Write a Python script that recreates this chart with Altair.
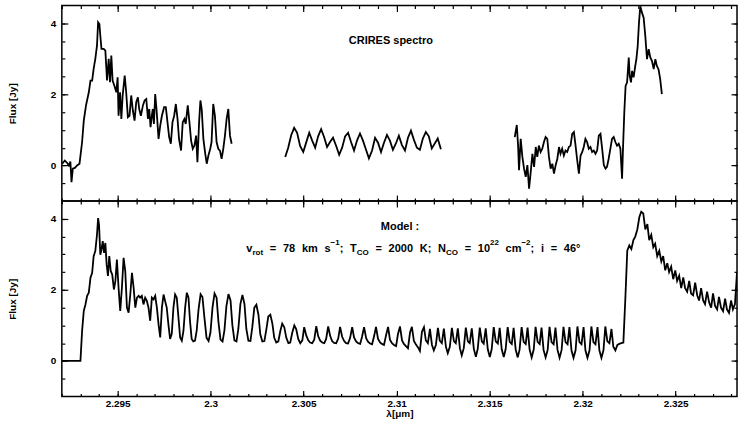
import altair as alt
import pandas as pd

# ---------------- axis ranges / ticks ----------------
X_DOMAIN = [2.292, 2.3283]
Y_DOMAIN = [-1.0, 4.5]
X_MAJOR = [2.295, 2.3, 2.305, 2.31, 2.315, 2.32, 2.325]
X_MINOR = [2.292, 2.293, 2.294, 2.295, 2.296, 2.297, 2.298, 2.299, 2.3, 2.301, 2.302,
           2.303, 2.304, 2.305, 2.306, 2.307, 2.308, 2.309, 2.31, 2.311, 2.312, 2.313,
           2.314, 2.315, 2.316, 2.317, 2.318, 2.319, 2.32, 2.321, 2.322, 2.323, 2.324,
           2.325, 2.326, 2.327, 2.328]
Y_MAJOR = [0, 2, 4]
Y_MINOR = [-0.5, 0, 0.5, 1, 1.5, 2, 2.5, 3, 3.5, 4]

# ---------------- CRIRES observed spectrum (3 pieces) ----------------
obs1_wl = [2.29202, 2.29216, 2.29229, 2.29238, 2.29246, 2.29252, 2.29259, 2.29270, 2.29282, 2.29295,
           2.29309, 2.29318, 2.29330, 2.29345, 2.29354, 2.29363, 2.29371, 2.29380, 2.29389, 2.29395,
           2.29402, 2.29407, 2.29413, 2.29425, 2.29434, 2.29443, 2.29452, 2.29459, 2.29466, 2.29473,
           2.29482, 2.29493, 2.29500, 2.29505, 2.29513, 2.29520, 2.29527, 2.29538, 2.29546, 2.29555,
           2.29564, 2.29573, 2.29582, 2.29591, 2.29600, 2.29609, 2.29616, 2.29625, 2.29636, 2.29645,
           2.29654, 2.29663, 2.29670, 2.29677, 2.29684, 2.29689, 2.29695, 2.29702, 2.29709, 2.29720,
           2.29729, 2.29738, 2.29750, 2.29759, 2.29768, 2.29777, 2.29786, 2.29795, 2.29804, 2.29813,
           2.29822, 2.29830, 2.29841, 2.29850, 2.29859, 2.29866, 2.29877, 2.29886, 2.29895, 2.29904,
           2.29913, 2.29922, 2.29929, 2.29938, 2.29945, 2.29952, 2.29961, 2.29970, 2.29979, 2.29988,
           2.29998, 2.30005, 2.30014, 2.30023, 2.30032, 2.30041, 2.30050, 2.30059, 2.30068, 2.30077,
           2.30086, 2.30095, 2.30104, 2.30113]
obs1_flux = [0.05, 0.14, 0.07, 0.00, 0.11, -0.47, -0.09, -0.07, 0.00, 0.05,
             0.66, 1.26, 1.69, 2.06, 2.39, 2.39, 2.72, 3.00, 3.37, 4.03,
             3.98, 3.65, 3.28, 3.28, 3.23, 2.39, 3.00, 2.34, 3.09, 2.39,
             2.25, 2.06, 2.48, 1.40, 2.06, 1.31, 1.97, 2.53, 2.06, 1.36,
             1.40, 1.97, 1.54, 1.26, 1.78, 1.92, 1.59, 1.40, 1.69, 1.83,
             1.87, 1.31, 1.59, 1.08, 1.40, 1.59, 1.17, 2.01, 1.59, 0.75,
             1.12, 1.40, 1.64, 1.64, 1.22, 0.80, 0.61, 1.22, 1.40, 1.73,
             1.31, 0.75, 0.42, 1.22, 1.31, 1.17, 1.69, 1.22, 0.70, 0.47,
             0.56, 0.84, 0.09, 1.22, 1.83, 1.59, 0.75, 0.37, 0.05, 0.28,
             0.47, 0.66, 1.73, 1.40, 0.66, 0.47, 0.42, 0.19, 0.47, 0.84,
             1.31, 1.59, 0.84, 0.61]

obs2_wl = [2.30401, 2.30417, 2.30433, 2.30449, 2.30465, 2.30481, 2.30498, 2.30514, 2.30530, 2.30546,
           2.30562, 2.30578, 2.30594, 2.30610, 2.30626, 2.30642, 2.30658, 2.30675, 2.30691, 2.30707,
           2.30723, 2.30739, 2.30755, 2.30771, 2.30787, 2.30803, 2.30819, 2.30835, 2.30851, 2.30868,
           2.30884, 2.30900, 2.30916, 2.30932, 2.30948, 2.30964, 2.30980, 2.30996, 2.31012, 2.31028,
           2.31045, 2.31061, 2.31077, 2.31093, 2.31109, 2.31125, 2.31141, 2.31157, 2.31173, 2.31189,
           2.31205, 2.31221, 2.31238]
obs2_flux = [0.24, 0.50, 0.85, 1.06, 0.92, 0.55, 0.38, 0.65, 0.92, 0.70,
             0.50, 0.82, 1.02, 0.80, 0.52, 0.66, 0.78, 0.55, 0.30, 0.50,
             0.82, 0.92, 0.66, 0.42, 0.70, 0.90, 0.70, 0.45, 0.20, 0.42,
             0.78, 0.64, 0.38, 0.64, 0.86, 0.70, 0.44, 0.62, 0.84, 0.58,
             0.42, 0.78, 0.98, 0.72, 0.50, 0.44, 0.76, 0.94, 0.82, 0.48,
             0.62, 0.76, 0.46]

obs3_wl = [2.31635, 2.31646, 2.31653, 2.31658, 2.31667, 2.31676, 2.31685, 2.31694, 2.31703, 2.31712,
           2.31721, 2.31730, 2.31739, 2.31748, 2.31756, 2.31765, 2.31774, 2.31783, 2.31792, 2.31801,
           2.31810, 2.31819, 2.31828, 2.31837, 2.31846, 2.31855, 2.31864, 2.31873, 2.31881, 2.31890,
           2.31899, 2.31908, 2.31917, 2.31926, 2.31935, 2.31944, 2.31953, 2.31962, 2.31971, 2.31980,
           2.31989, 2.31998, 2.32006, 2.32015, 2.32024, 2.32033, 2.32042, 2.32051, 2.32060, 2.32069,
           2.32078, 2.32087, 2.32096, 2.32105, 2.32114, 2.32123, 2.32131, 2.32140, 2.32149, 2.32158,
           2.32167, 2.32176, 2.32185, 2.32194, 2.32203, 2.32212, 2.32217, 2.32224, 2.32231, 2.32239,
           2.32248, 2.32253, 2.32260, 2.32266, 2.32274, 2.32283, 2.32289, 2.32296, 2.32303, 2.32310,
           2.32319, 2.32328, 2.32337, 2.32346, 2.32355, 2.32364, 2.32373, 2.32382, 2.32391, 2.32399,
           2.32408, 2.32417, 2.32426]
obs3_flux = [0.80, 1.14, 0.56, -0.13, 0.75, 0.24, -0.09, -0.32, 0.01, -0.65,
             -0.18, 0.33, -0.04, 0.52, 0.24, 0.56, 0.38, 0.47, 0.66, 0.80,
             0.75, 0.24, -0.09, 0.05, -0.23, 0.01, 0.19, 0.52, 0.33, 0.47,
             0.28, 0.42, 0.38, 0.52, 0.56, 0.89, 0.94, 0.56, 0.14, -0.23,
             0.28, 0.38, 0.52, 0.75, 0.66, 0.47, 0.52, 0.38, 0.42, 0.33,
             0.42, 0.84, 0.89, 0.47, 0.01, -0.09, -0.04, 0.19, 0.47, 0.75,
             0.80, 0.66, 0.56, 0.61, 0.47, -0.37, 0.47, 1.50, 2.24, 2.34,
             3.04, 2.52, 2.34, 2.66, 2.48, 2.80, 2.99, 3.36, 4.02, 4.48,
             4.30, 4.16, 3.64, 2.99, 3.27, 3.04, 2.94, 2.71, 2.99, 2.80,
             2.71, 2.43, 2.01]

# ---------------- model spectrum ----------------
model_wl = [
    2.29202, 2.29300, 2.29309, 2.29318, 2.29327, 2.29336, 2.29345, 2.29354, 2.29363, 2.29371,
    2.29380, 2.29389, 2.29395, 2.29400, 2.29407, 2.29413, 2.29420, 2.29427, 2.29434, 2.29441,
    2.29448, 2.29455, 2.29463, 2.29471, 2.29480, 2.29488, 2.29496, 2.29505, 2.29514, 2.29523,
    2.29532, 2.29541, 2.29550, 2.29559, 2.29568, 2.29577, 2.29586, 2.29595, 2.29604, 2.29613,
    2.29621, 2.29630, 2.29639, 2.29648, 2.29657, 2.29666, 2.29675, 2.29684, 2.29693, 2.29702,
    2.29711, 2.29720, 2.29729, 2.29738, 2.29747, 2.29755, 2.29764, 2.29773, 2.29782, 2.29791,
    2.29800, 2.29809, 2.29818, 2.29827, 2.29836, 2.29845, 2.29854, 2.29863, 2.29872, 2.29881,
    2.29889, 2.29898, 2.29907, 2.29916, 2.29925,
    2.29935, 2.29946, 2.29956, 2.29967, 2.29978, 2.29989, 2.29999, 2.30010, 2.30021, 2.30032,
    2.30042, 2.30053, 2.30064, 2.30074, 2.30085, 2.30096, 2.30107, 2.30117, 2.30128, 2.30139,
    2.30149, 2.30160, 2.30171, 2.30182, 2.30192, 2.30203, 2.30214, 2.30224, 2.30235, 2.30246,
    2.30257, 2.30267, 2.30278, 2.30289, 2.30300, 2.30310, 2.30321, 2.30332, 2.30342, 2.30353,
    2.30364, 2.30375, 2.30385, 2.30396, 2.30407, 2.30418, 2.30428, 2.30439, 2.30450, 2.30460,
    2.30471, 2.30482, 2.30493, 2.30503, 2.30514, 2.30525, 2.30535, 2.30546, 2.30557, 2.30568,
    2.30578, 2.30589, 2.30600, 2.30611, 2.30621, 2.30632, 2.30643, 2.30653, 2.30664, 2.30675,
    2.30686, 2.30696, 2.30707, 2.30718, 2.30728, 2.30739, 2.30750, 2.30761, 2.30771, 2.30782,
    2.30793, 2.30804, 2.30814, 2.30825, 2.30836, 2.30846, 2.30857, 2.30868, 2.30879, 2.30889,
    2.30900, 2.30911, 2.30921, 2.30932, 2.30943, 2.30954, 2.30964, 2.30975, 2.30986, 2.30997,
    2.31007, 2.31018, 2.31029, 2.31039, 2.31050, 2.31061, 2.31072, 2.31082, 2.31093, 2.31104,
    2.31115, 2.31125, 2.31136, 2.31147, 2.31157, 2.31168, 2.31179, 2.31190, 2.31200, 2.31211,
    2.31222, 2.31232, 2.31243, 2.31254, 2.31265, 2.31275, 2.31286, 2.31297, 2.31308, 2.31318,
    2.31329, 2.31340, 2.31350, 2.31361, 2.31372, 2.31383, 2.31393, 2.31404, 2.31415, 2.31426,
    2.31436, 2.31447, 2.31458, 2.31468, 2.31479, 2.31490, 2.31501, 2.31511, 2.31522, 2.31533,
    2.31544, 2.31554, 2.31565, 2.31576, 2.31586, 2.31597, 2.31608, 2.31619, 2.31629, 2.31640,
    2.31651, 2.31661, 2.31672, 2.31683, 2.31694, 2.31704, 2.31715, 2.31726, 2.31737, 2.31747,
    2.31758, 2.31769, 2.31779, 2.31790, 2.31801, 2.31812, 2.31822, 2.31833, 2.31844, 2.31854,
    2.31865, 2.31876, 2.31887, 2.31897, 2.31908, 2.31919, 2.31929, 2.31940, 2.31951, 2.31962,
    2.31972, 2.31983, 2.31994, 2.32005, 2.32015, 2.32026, 2.32037, 2.32047, 2.32058, 2.32069,
    2.32080, 2.32090, 2.32101, 2.32112, 2.32122, 2.32133, 2.32144, 2.32155, 2.32165, 2.32176,
    2.32187, 2.32197, 2.32208, 2.32219, 2.32230, 2.32240, 2.32251, 2.32262, 2.32273, 2.32283,
    2.32294, 2.32305, 2.32315, 2.32326, 2.32337, 2.32348, 2.32358, 2.32369, 2.32380, 2.32390,
    2.32401, 2.32412, 2.32423, 2.32433, 2.32444, 2.32455, 2.32465, 2.32476, 2.32487, 2.32498,
    2.32508, 2.32519, 2.32530, 2.32541, 2.32551, 2.32562, 2.32573, 2.32583, 2.32594, 2.32605,
    2.32616, 2.32626, 2.32637, 2.32648, 2.32658, 2.32669, 2.32680, 2.32691, 2.32701, 2.32712,
    2.32723, 2.32733, 2.32744, 2.32755, 2.32766, 2.32776, 2.32787, 2.32798, 2.32808, 2.32819,
    2.32830]
model_flux = [
    0.00, 0.00, 0.85, 1.41, 1.59, 1.83, 1.92, 2.34, 2.48, 2.95,
    3.09, 3.55, 4.02, 3.83, 2.99, 3.13, 3.37, 3.04, 3.32, 2.71,
    2.39, 2.95, 2.53, 2.43, 2.01, 2.25, 2.85, 2.06, 1.41, 2.06,
    2.90, 2.53, 1.50, 1.36, 1.87, 2.48, 2.06, 1.50, 1.78, 1.83,
    1.78, 1.83, 1.59, 1.78, 1.69, 1.50, 1.13, 1.78, 1.73, 1.83,
    1.50, 1.03, 0.66, 1.50, 1.87, 1.69, 1.50, 1.03, 0.62, 0.76,
    1.50, 1.87, 1.78, 1.22, 0.66, 0.57, 0.85, 1.50, 1.92, 1.78,
    1.13, 0.62, 0.55, 0.57, 0.85,
    1.45, 1.88, 1.80, 1.20, 0.65, 0.56, 0.80, 1.50, 1.90, 1.78,
    1.10, 0.60, 0.55, 0.85, 1.55, 1.88, 1.70, 1.00, 0.58, 0.55,
    0.90, 1.60, 1.86, 1.60, 0.90, 0.57, 0.56, 0.95, 1.50, 1.58,
    1.30, 0.75, 0.55, 0.56, 0.90, 1.25, 1.30, 1.05, 0.65, 0.52,
    0.55, 0.85, 1.05, 0.95, 0.65, 0.50, 0.52, 0.80, 1.00, 0.90,
    0.62, 0.50, 0.58, 0.95, 0.72, 0.58, 0.52, 0.50, 0.60, 0.98,
    0.70, 0.57, 0.52, 0.50, 0.62, 0.97, 0.70, 0.56, 0.51, 0.50,
    0.63, 0.96, 0.68, 0.56, 0.50, 0.49, 0.65, 0.95, 0.66, 0.55,
    0.50, 0.48, 0.68, 0.95, 0.64, 0.54, 0.49, 0.47, 0.70, 0.96,
    0.62, 0.52, 0.48, 0.45, 0.72, 0.96, 0.60, 0.50, 0.45, 0.42,
    0.75, 0.97, 0.58, 0.48, 0.42, 0.36, 0.80, 0.96, 0.56, 0.46,
    0.38, 0.28, 0.82, 0.95, 0.58, 0.50, 0.90, 0.45, 0.30, 0.45,
    0.93, 0.57, 0.50, 0.91, 0.40, 0.22, 0.40, 0.93, 0.56, 0.50,
    0.92, 0.36, 0.16, 0.36, 0.94, 0.55, 0.50, 0.92, 0.34, 0.12,
    0.34, 0.94, 0.55, 0.49, 0.92, 0.33, 0.11, 0.33, 0.95, 0.55,
    0.49, 0.93, 0.33, 0.11, 0.33, 0.95, 0.54, 0.48, 0.93, 0.32,
    0.10, 0.32, 0.95, 0.54, 0.48, 0.94, 0.32, 0.10, 0.32, 0.96,
    0.54, 0.48, 0.94, 0.31, 0.10, 0.31, 0.96, 0.53, 0.47, 0.94,
    0.31, 0.09, 0.31, 0.96, 0.53, 0.47, 0.95, 0.30, 0.09, 0.30,
    0.97, 0.53, 0.47, 0.95, 0.30, 0.09, 0.30, 0.97, 0.53, 0.47,
    0.95, 0.30, 0.09, 0.30, 0.97, 0.55, 0.50, 0.90, 0.40, 0.30,
    0.45, 0.48, 0.50, 0.52, 1.80, 3.10, 3.25, 3.15, 3.40, 3.50,
    3.70, 4.05, 4.20, 4.15, 3.70, 3.85, 3.40, 3.55, 3.20, 3.30,
    2.95, 3.10, 2.80, 2.95, 2.55, 2.75, 2.50, 2.65, 2.30, 2.55,
    2.25, 2.40, 2.05, 2.35, 2.05, 1.95, 2.25, 1.90, 1.85, 2.20,
    1.85, 1.70, 2.05, 1.70, 1.60, 1.95, 1.65, 1.50, 1.90, 1.55,
    1.45, 1.80, 1.50, 1.40, 1.75, 1.45, 1.35, 1.70, 1.45, 1.60,
    2.50]

# ---------------- annotation text ----------------
top_text = ["CRIRES spectro"]
top_text_wl = [2.30969]
top_text_y = [3.43]
model_title = ["Model :"]
model_title_wl = [2.31018]
model_title_y = [3.69]

# caption pieces: text, kind (m=main, s=subscript, p=superscript), followed by a space
cap_text = ["v", "rot", "=", "78", "km", "s", "\u22121", ";", "T", "CO", "=", "2000", "K;",
            "N", "CO", "=", "10", "22", "cm", "\u22122", ";", "i", "=", "46\u00b0"]
cap_kind = ["m", "s", "m", "m", "m", "m", "p", "m", "m", "s", "m", "m", "m",
            "m", "s", "m", "m", "p", "m", "p", "m", "m", "m", "m"]
cap_space = [0, 1, 1, 1, 1, 0, 0, 1, 0, 1, 1, 1, 1,
             0, 1, 1, 0, 1, 0, 0, 1, 1, 1, 0]

FONT = "Liberation Sans"
W, H = 677, 196
PX_PER_UM = W / (X_DOMAIN[1] - X_DOMAIN[0])

# Liberation Sans Bold advance widths (per 1000 em)
GLYPH_W = {"v": 556, "r": 389, "o": 611, "t": 333, "=": 584, "0": 556, "1": 556, "2": 556,
           "4": 556, "6": 556, "7": 556, "8": 556, "k": 556, "m": 889, "s": 556, "\u2212": 584,
           ";": 333, "T": 611, "C": 722, "O": 778, "K": 722, "N": 722, "c": 556, "i": 278,
           "\u00b0": 400}
KIND_SIZE = {"m": 11, "s": 8, "p": 8}
KIND_Y = {"m": 3.06, "s": 2.97, "p": 3.25}
CAP_START_PX, CAP_END_PX = 248, 583

widths = [sum(GLYPH_W[c] for c in t) * KIND_SIZE[k] / 1000 for t, k in zip(cap_text, cap_kind)]
gap = (CAP_END_PX - CAP_START_PX - sum(widths)) / sum(cap_space)
cap_px = []
cur = CAP_START_PX
for w_, sp in zip(widths, cap_space):
    cap_px.append(cur)
    cur += w_ + gap * sp
cap_wl = [X_DOMAIN[0] + (p - 63) / PX_PER_UM for p in cap_px]

caption = pd.DataFrame({
    "text": cap_text,
    "wl": cap_wl,
    "flux": [KIND_Y[k] for k in cap_kind],
    "size": [KIND_SIZE[k] for k in cap_kind],
})
obs = pd.DataFrame({
    "wl": obs1_wl + obs2_wl + obs3_wl,
    "flux": obs1_flux + obs2_flux + obs3_flux,
    "seg": [1] * len(obs1_wl) + [2] * len(obs2_wl) + [3] * len(obs3_wl),
})
model = pd.DataFrame({"wl": model_wl, "flux": model_flux, "seg": [1] * len(model_wl)})
top_ann = pd.DataFrame({"text": top_text, "wl": top_text_wl, "flux": top_text_y})
model_ann = pd.DataFrame({"text": model_title, "wl": model_title_wl, "flux": model_title_y})

xs = alt.Scale(domain=X_DOMAIN, nice=False, zero=False)
ys = alt.Scale(domain=Y_DOMAIN, nice=False, zero=False)


def tick_axis(orient, values, size):
    return alt.Axis(orient=orient, values=values, labels=False, domain=False, grid=False,
                    ticks=True, tickSize=size, offset=-size, tickColor="black", tickWidth=1.2)


def panel(df, centered, caption_df, bottom):
    base = alt.Chart(df)
    xaxis = alt.Axis(orient="bottom", values=X_MAJOR, format="~g", ticks=False, domain=False,
                     grid=False, labels=bottom, labelPadding=2, titlePadding=0,
                     labelFont=FONT, labelFontWeight="bold", labelFontSize=10,
                     titleFont=FONT, titleFontWeight="bold", titleFontSize=10)
    yaxis = alt.Axis(orient="left", values=Y_MAJOR, ticks=False, domain=False, grid=False,
                     labelPadding=6, titlePadding=33,
                     labelFont=FONT, labelFontWeight="bold", labelFontSize=10,
                     titleFont=FONT, titleFontWeight="bold", titleFontSize=10)
    line = base.mark_line(color="black", strokeWidth=1.8, clip=True).encode(
        x=alt.X("wl:Q", scale=xs, axis=xaxis, title="λ[μm]" if bottom else None),
        y=alt.Y("flux:Q", scale=ys, axis=yaxis, title="Flux [Jy]"),
        detail="seg:N",
    )
    layers = [line]
    for xo, yo, vx, vy, size in [
        ("bottom", "left", X_MAJOR, Y_MAJOR, 6),
        ("bottom", "left", X_MINOR, Y_MINOR, 3),
        ("top", "right", X_MAJOR, Y_MAJOR, 6),
        ("top", "right", X_MINOR, Y_MINOR, 3),
    ]:
        layers.append(base.mark_point(opacity=0).encode(
            x=alt.X("wl:Q", scale=xs, axis=tick_axis(xo, vx, size), title=None),
            y=alt.Y("flux:Q", scale=ys, axis=tick_axis(yo, vy, size), title=None),
        ))
    layers.append(alt.Chart(centered).mark_text(
        font=FONT, fontWeight="bold", color="black", fontSize=11,
        baseline="alphabetic", align="center").encode(
        x=alt.X("wl:Q", scale=xs, axis=None),
        y=alt.Y("flux:Q", scale=ys, axis=None),
        text="text:N",
    ))
    if caption_df is not None:
        layers.append(alt.Chart(caption_df).mark_text(
            font=FONT, fontWeight="bold", color="black",
            baseline="alphabetic", align="left").encode(
            x=alt.X("wl:Q", scale=xs, axis=None),
            y=alt.Y("flux:Q", scale=ys, axis=None),
            text="text:N",
            size=alt.Size("size:Q", scale=None),
        ))
    return alt.layer(*layers).resolve_axis(x="independent", y="independent").properties(
        width=W, height=H)


chart = alt.vconcat(panel(obs, top_ann, None, False), panel(model, model_ann, caption, True),
                    spacing=0, bounds="flush").properties(
    padding={"left": 6, "top": 2, "right": 1, "bottom": 1}
).configure_view(stroke="black", strokeWidth=1.5).configure_axis(
    labelColor="black", titleColor="black"
)

chart.save("out.html", embed_options={"renderer": "svg", "actions": False})
